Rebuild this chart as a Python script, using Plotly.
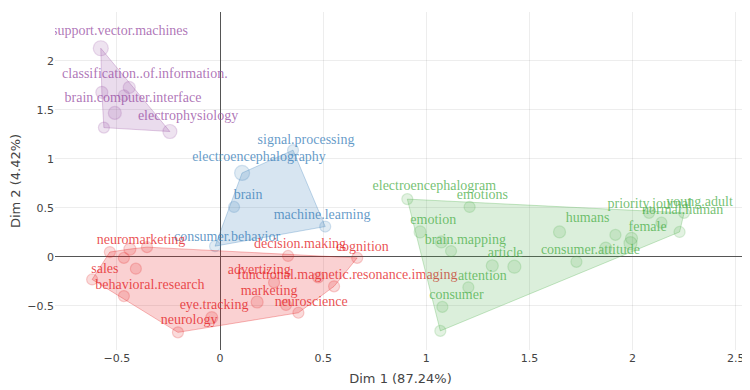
import plotly.graph_objects as go

# ---------------- data ----------------
groups = ["purple", "blue", "red", "green"]
group_colors = {"purple": "152,78,163", "blue": "55,126,184", "red": "228,26,28", "green": "77,175,74"}

# points (Dim1, Dim2, marker size)
purple_x = [-0.578, -0.573, -0.44, -0.466, -0.51, -0.563, -0.243]
purple_y = [2.13, 1.68, 1.73, 1.65, 1.47, 1.32, 1.28]
purple_s = [15, 12, 12, 11, 13, 11, 14]

blue_x = [0.354, 0.107, 0.068, 0.51, -0.024]
blue_y = [1.09, 0.857, 0.51, 0.31, 0.11]
blue_s = [11, 15, 11, 11, 11]

red_x = [-0.534, -0.437, -0.354, -0.466, -0.408, -0.62, -0.466, -0.04, -0.204,
         0.33, 0.665, 0.476, 0.262, 0.553, 0.18, 0.32, 0.38]
red_y = [0.05, 0.08, 0.10, -0.01, -0.12, -0.23, -0.40, -0.62, -0.77,
         0.01, -0.01, -0.21, -0.26, -0.30, -0.46, -0.49, -0.57]
red_s = [11, 12, 11, 11, 11, 11, 11, 12, 11, 11, 11, 11, 11, 11, 12, 11, 11]

green_x = [0.908, 1.21, 0.97, 1.073, 1.12, 1.32, 1.427, 1.204, 1.078, 1.068,
           1.646, 1.728, 1.87, 1.917, 1.995, 1.99, 2.08, 2.14, 2.228, 2.25]
green_y = [0.59, 0.51, 0.255, 0.153, 0.06, -0.09, -0.10, -0.31, -0.51, -0.755,
           0.255, -0.05, 0.09, 0.225, 0.19, 0.14, 0.45, 0.35, 0.255, 0.45]
green_s = [11, 11, 12, 12, 11, 12, 13, 11, 11, 11,
           12, 11, 12, 11, 12, 13, 11, 11, 11, 11]

# labels (text, Dim1, Dim2)
purple_lab = ["support.vector.machines", "classification..of.information.", "brain.computer.interface", "electrophysiology"]
purple_lx = [-0.485, -0.364, -0.422, -0.155]
purple_ly = [2.30, 1.86, 1.62, 1.43]

blue_lab = ["signal.processing", "electroencephalography", "brain", "machine.learning", "consumer.behavior"]
blue_lx = [0.417, 0.189, 0.136, 0.495, 0.034]
blue_ly = [1.19, 1.02, 0.63, 0.42, 0.20]

red_lab = ["neuromarketing", "sales", "behavioral.research", "eye.tracking", "neurology",
           "decision.making", "cognition", "advertizing", "functional.magnetic.resonance.imaging",
           "marketing", "neuroscience"]
red_lx = [-0.383, -0.558, -0.34, -0.029, -0.15, 0.388, 0.69, 0.19, 0.617, 0.238, 0.442]
red_ly = [0.17, -0.13, -0.295, -0.50, -0.65, 0.13, 0.10, -0.14, -0.19, -0.35, -0.47]

green_lab = ["electroencephalogram", "emotions", "emotion", "brain.mapping", "article", "attention",
             "consumer", "humans", "consumer.attitude", "female", "priority.journal", "normal.human",
             "young.adult"]
green_lx = [1.039, 1.272, 1.034, 1.189, 1.383, 1.272, 1.146, 1.782, 1.796, 2.073, 2.083, 2.243, 2.325]
green_ly = [0.72, 0.63, 0.37, 0.17, 0.04, -0.20, -0.39, 0.39, 0.07, 0.305, 0.54, 0.47, 0.56]

x_ticks = [-0.5, 0, 0.5, 1, 1.5, 2, 2.5]
y_ticks = [-0.5, 0, 0.5, 1, 1.5, 2]
x_title = "Dim 1 (87.24%)"
y_title = "Dim 2 (4.42%)"

data = {
    "purple": (purple_x, purple_y, purple_s, purple_lab, purple_lx, purple_ly),
    "blue": (blue_x, blue_y, blue_s, blue_lab, blue_lx, blue_ly),
    "red": (red_x, red_y, red_s, red_lab, red_lx, red_ly),
    "green": (green_x, green_y, green_s, green_lab, green_lx, green_ly),
}


def convex_hull(xs, ys):
    pts = sorted(set(zip(xs, ys)))
    if len(pts) <= 2:
        return pts

    def cross(o, a, b):
        return (a[0] - o[0]) * (b[1] - o[1]) - (a[1] - o[1]) * (b[0] - o[0])

    lower, upper = [], []
    for p in pts:
        while len(lower) >= 2 and cross(lower[-2], lower[-1], p) <= 0:
            lower.pop()
        lower.append(p)
    for p in reversed(pts):
        while len(upper) >= 2 and cross(upper[-2], upper[-1], p) <= 0:
            upper.pop()
        upper.append(p)
    return lower[:-1] + upper[:-1]


fig = go.Figure()

for g in groups:
    xs, ys, ss, labs, lx, ly = data[g]
    c = group_colors[g]
    hull = convex_hull(xs, ys)
    hx = [p[0] for p in hull] + [hull[0][0]]
    hy = [p[1] for p in hull] + [hull[0][1]]
    fig.add_trace(go.Scatter(
        x=hx, y=hy, mode="lines", fill="toself",
        fillcolor=f"rgba({c},0.2)",
        line=dict(color=f"rgba({c},0.3)", width=1),
        hoverinfo="skip", showlegend=False))
    fig.add_trace(go.Scatter(
        x=xs, y=ys, mode="markers",
        marker=dict(size=ss, color=f"rgba({c},0.22)",
                    line=dict(color=f"rgba({c},0.3)", width=1.2)),
        showlegend=False))
    fig.add_trace(go.Scatter(
        x=lx, y=ly, mode="text", text=labs,
        textfont=dict(family="Liberation Serif", size=14, color=f"rgba({c},0.78)"),
        hoverinfo="skip", showlegend=False))

tick_txt = lambda vals: [("−0.5" if v == -0.5 else f"{v:g}") for v in vals]

fig.update_layout(
    width=750, height=390,
    margin=dict(l=47, r=12, t=4, b=48),
    paper_bgcolor="white", plot_bgcolor="white",
    showlegend=False,
    xaxis=dict(range=[-0.8, 2.55], tickvals=x_ticks, ticktext=tick_txt(x_ticks), automargin=False,
               showgrid=True, gridcolor="rgba(0,0,0,0.07)", gridwidth=1,
               zeroline=True, zerolinecolor="#555", zerolinewidth=1,
               tickfont=dict(family="DejaVu Sans", size=11, color="#444"),
               title=dict(text=x_title, font=dict(family="DejaVu Sans", size=13, color="#444"), standoff=9),
               showline=False, ticks=""),
    yaxis=dict(range=[-0.95, 2.5], tickvals=y_ticks, ticktext=tick_txt(y_ticks), automargin=False,
               showgrid=True, gridcolor="rgba(0,0,0,0.07)", gridwidth=1,
               zeroline=True, zerolinecolor="#555", zerolinewidth=1,
               tickfont=dict(family="DejaVu Sans", size=11, color="#444"),
               title=dict(text=y_title, font=dict(family="DejaVu Sans", size=13, color="#444"), standoff=8),
               showline=False, ticks=""),
)

fig.write_html("out.html")
